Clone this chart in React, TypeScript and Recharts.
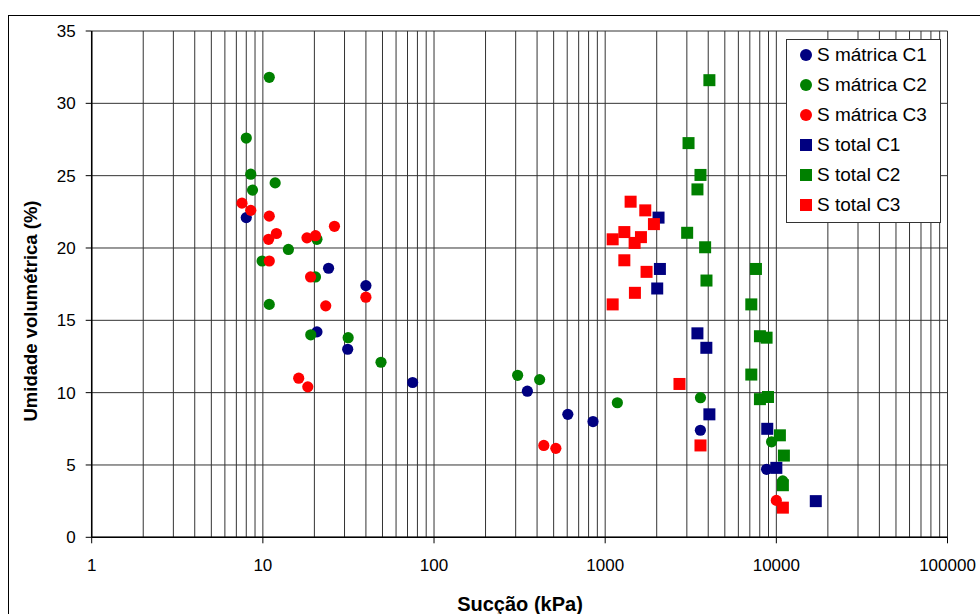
import React from 'react';
import { ScatterChart, Scatter, XAxis, YAxis, CartesianGrid, ReferenceLine, Legend, Label } from 'recharts';

// ---- axis ticks / grid ----
const xTicks = [1, 10, 100, 1000, 10000, 100000];
const xMinorGrid = [
  2, 3, 4, 5, 6, 7, 8, 9,
  20, 30, 40, 50, 60, 70, 80, 90,
  200, 300, 400, 500, 600, 700, 800, 900,
  2000, 3000, 4000, 5000, 6000, 7000, 8000, 9000,
  20000, 30000, 40000, 50000, 60000, 70000, 80000, 90000,
];
const yTicks = [0, 5, 10, 15, 20, 25, 30, 35];

// ---- data (Sucção kPa, Umidade %) ----
const matricaC1 = [
  { x: 8.0, y: 22.1 }, { x: 24.2, y: 18.6 }, { x: 40, y: 17.4 }, { x: 20.7, y: 14.2 },
  { x: 31.3, y: 13.0 }, { x: 75, y: 10.7 }, { x: 351, y: 10.1 }, { x: 605, y: 8.5 },
  { x: 849, y: 8.0 }, { x: 3600, y: 7.4 }, { x: 8770, y: 4.7 },
];
const matricaC2 = [
  { x: 10.9, y: 31.8 }, { x: 8.0, y: 27.6 }, { x: 8.5, y: 25.1 }, { x: 11.8, y: 24.5 },
  { x: 8.7, y: 24.0 }, { x: 20.7, y: 20.6 }, { x: 14.1, y: 19.9 }, { x: 9.9, y: 19.1 },
  { x: 20.3, y: 18.0 }, { x: 10.9, y: 16.1 }, { x: 19.05, y: 14.0 }, { x: 31.5, y: 13.8 },
  { x: 49, y: 12.1 }, { x: 308, y: 11.2 }, { x: 414, y: 10.9 }, { x: 1178, y: 9.3 },
  { x: 3604, y: 9.65 }, { x: 9380, y: 6.6 }, { x: 10900, y: 3.9 },
];
const matricaC3 = [
  { x: 7.55, y: 23.1 }, { x: 8.5, y: 22.6 }, { x: 10.9, y: 22.2 }, { x: 12.0, y: 21.0 },
  { x: 10.8, y: 20.6 }, { x: 26.2, y: 21.5 }, { x: 18.1, y: 20.7 }, { x: 20.3, y: 20.85 },
  { x: 10.9, y: 19.1 }, { x: 19.0, y: 18.0 }, { x: 40, y: 16.6 }, { x: 23.3, y: 16.0 },
  { x: 16.2, y: 11.0 }, { x: 18.3, y: 10.4 }, { x: 438, y: 6.35 }, { x: 515, y: 6.15 },
  { x: 10000, y: 2.55 },
];
const totalC1 = [
  { x: 2050, y: 22.1 }, { x: 2088, y: 18.55 }, { x: 2014, y: 17.2 }, { x: 3459, y: 14.1 },
  { x: 3900, y: 13.1 }, { x: 4063, y: 8.5 }, { x: 8850, y: 7.5 }, { x: 10000, y: 4.8 },
  { x: 17000, y: 2.5 },
];
const totalC2 = [
  { x: 4063, y: 31.6 }, { x: 3069, y: 27.25 }, { x: 3604, y: 25.05 }, { x: 3460, y: 24.05 },
  { x: 3013, y: 21.05 }, { x: 3837, y: 20.05 }, { x: 7600, y: 18.55 }, { x: 3907, y: 17.75 },
  { x: 7140, y: 16.1 }, { x: 8020, y: 13.9 }, { x: 8770, y: 13.8 }, { x: 7140, y: 11.25 },
  { x: 8020, y: 9.55 }, { x: 8940, y: 9.7 }, { x: 10490, y: 7.05 }, { x: 11070, y: 5.65 },
  { x: 10920, y: 3.6 },
];
const totalC3 = [
  { x: 1408, y: 23.2 }, { x: 1715, y: 22.6 }, { x: 1927, y: 21.65 }, { x: 1294, y: 21.1 },
  { x: 1618, y: 20.75 }, { x: 1106, y: 20.6 }, { x: 1486, y: 20.35 }, { x: 1294, y: 19.15 },
  { x: 1745, y: 18.35 }, { x: 1492, y: 16.9 }, { x: 1106, y: 16.1 }, { x: 2717, y: 10.6 },
  { x: 3604, y: 6.35 }, { x: 10920, y: 2.05 },
];

const NAVY = '#000080';
const GREEN = '#008000';
const RED = '#FF0000';
const FONT = '"Liberation Sans", Arial, Helvetica, sans-serif';

const series = [
  { name: 'S mátrica C1', data: matricaC1, color: NAVY, kind: 'circle' },
  { name: 'S mátrica C2', data: matricaC2, color: GREEN, kind: 'circle' },
  { name: 'S mátrica C3', data: matricaC3, color: RED, kind: 'circle' },
  { name: 'S total C1', data: totalC1, color: NAVY, kind: 'square' },
  { name: 'S total C2', data: totalC2, color: GREEN, kind: 'square' },
  { name: 'S total C3', data: totalC3, color: RED, kind: 'square' },
];

const makeShape = (color: string, kind: string) => (props: any) => {
  const { cx, cy } = props;
  if (cx == null || cy == null) return null;
  if (kind === 'circle') return <circle cx={cx} cy={cy} r={5.6} fill={color} />;
  return <rect x={cx - 6} y={cy - 6} width={12} height={12} fill={color} />;
};

const LegendBox = () => (
  <div
    style={{
      width: 155,
      height: 184,
      boxSizing: 'border-box',
      border: '1px solid #333',
      background: '#fff',
      fontFamily: FONT,
      fontSize: 19,
      color: '#000',
      paddingTop: 0,
    }}
  >
    {series.map((s) => (
      <div key={s.name} style={{ display: 'flex', alignItems: 'center', height: 30, paddingLeft: 13 }}>
        <svg width={12} height={12} style={{ marginRight: 5, flex: 'none' }}>
          {s.kind === 'circle' ? (
            <circle cx={6} cy={6} r={6} fill={s.color} />
          ) : (
            <rect x={0} y={0} width={12} height={12} fill={s.color} />
          )}
        </svg>
        <span style={{ whiteSpace: 'nowrap', lineHeight: '30px' }}>{s.name}</span>
      </div>
    ))}
  </div>
);

const XTitle = () => (
  <text x={520} y={611} textAnchor="middle" fontFamily={FONT} fontWeight="bold" fontSize={20} fill="#000">
    Sucção (kPa)
  </text>
);

const YTitle = () => (
  <text
    x={37}
    y={311}
    transform="rotate(-90, 37, 311)"
    textAnchor="middle"
    fontFamily={FONT}
    fontWeight="bold"
    fontSize={18.5}
    fill="#000"
  >
    Umidade volumétrica (%)
  </text>
);

export default function App() {
  return (
    <div style={{ position: 'absolute', left: 0, top: 0, width: 980, height: 614, overflow: 'hidden', background: '#fff' }}>
      <div
        style={{
          position: 'absolute',
          left: 8,
          top: 15,
          width: 990,
          height: 620,
          border: '1.5px solid #000',
          boxSizing: 'border-box',
        }}
      />
      <div style={{ position: 'absolute', left: 0, top: 0 }}>
        <ScatterChart width={980} height={614} margin={{ top: 31, right: 32.5, bottom: 26.7, left: 31.7 }}>
          <CartesianGrid stroke="#333" strokeWidth={1} horizontal={true} vertical={true} />
          {xMinorGrid.map((v) => (
            <ReferenceLine key={v} x={v} stroke="#333" strokeWidth={1} />
          ))}
          <XAxis
            type="number"
            dataKey="x"
            scale="log"
            domain={[1, 100000]}
            ticks={xTicks}
            allowDataOverflow
            height={50}
            tickSize={6}
            tickMargin={16}
            axisLine={{ stroke: '#000', strokeWidth: 1.5 }}
            tickLine={{ stroke: '#000' }}
            tick={{ fill: '#000', fontSize: 17, fontFamily: FONT }}
            interval={0}
          >
            <Label content={XTitle} />
          </XAxis>
          <YAxis
            type="number"
            dataKey="y"
            domain={[0, 35]}
            ticks={yTicks}
            width={60}
            tickSize={6}
            tickMargin={10}
            axisLine={{ stroke: '#000', strokeWidth: 1.5 }}
            tickLine={{ stroke: '#000' }}
            tick={{ fill: '#000', fontSize: 17, fontFamily: FONT }}
            interval={0}
          >
            <Label content={YTitle} />
          </YAxis>
          <Legend
            layout="horizontal"
            verticalAlign="middle"
            align="center"
            content={LegendBox}
            wrapperStyle={{ position: 'absolute', left: 786, top: 39, width: 155, height: 184 }}
          />
          {series.map((s) => (
            <Scatter
              key={s.name}
              name={s.name}
              data={s.data}
              fill={s.color}
              shape={makeShape(s.color, s.kind)}
              isAnimationActive={false}
            />
          ))}
        </ScatterChart>
      </div>
    </div>
  );
}
